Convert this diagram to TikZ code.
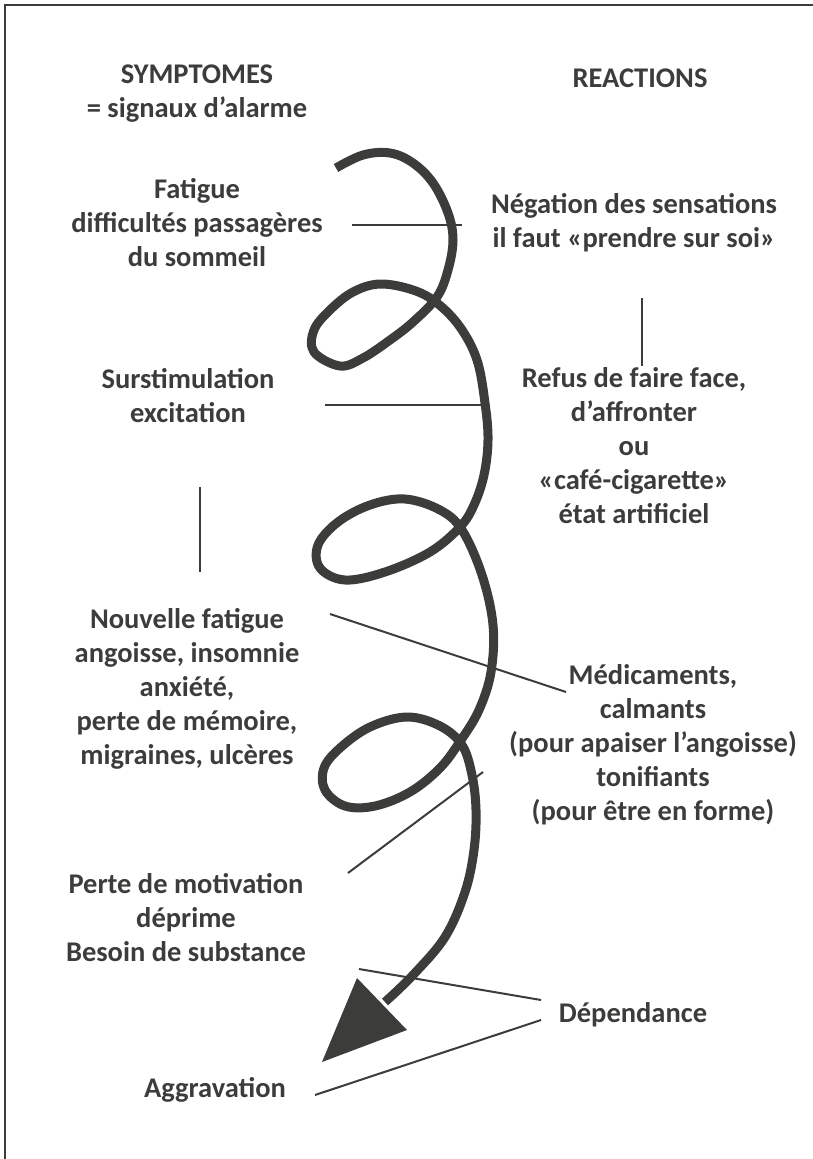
\documentclass[tikz,border=0pt]{standalone}
\usepackage{fontspec}
\setmainfont{Carlito}
\definecolor{ink}{HTML}{3C3C3B}
\begin{document}
\begin{tikzpicture}[x=1pt,y=-1pt,
  lbl/.style={font=\fontsize{28.5}{34}\selectfont\bfseries, text=ink, align=center, inner sep=0pt},
  thin/.style={draw=ink, line width=2pt},
  spiral/.style={draw=ink, line width=9pt, line join=round}]
\useasboundingbox (0,0) rectangle (812,1159);
\draw[ink, line width=2.5pt] (5,5) rectangle (830,1180);

% headings
\node[lbl] (symp) at (197,94) {SYMPTOMES\\= signaux d’alarme};
\node[lbl] (reac) at (640,78) {REACTIONS};

% left column
\node[lbl] (fat) at (197,223) {Fatigue\\difficultés passagères\\du sommeil};
\node[lbl] (surs) at (188,396) {Surstimulation\\excitation};
\node[lbl] (nouv) at (187,689) {Nouvelle fatigue\\angoisse, insomnie\\anxiété,\\perte de mémoire,\\migraines, ulcères};
\node[lbl] (perte) at (186,918) {Perte de motivation\\déprime\\Besoin de substance};
\node[lbl] (aggr) at (215,1090) {Aggravation};

% right column
\node[lbl] (neg) at (634,223) {Négation des sensations\\il faut «prendre sur soi»};
\node[lbl] (refus) at (634,446) {Refus de faire face,\\d’affronter\\ou\\«café-cigarette»\\état artificiel};
\node[lbl] (medic) at (653,745) {Médicaments,\\calmants\\(pour apaiser l’angoisse)\\tonifiants\\(pour être en forme)};
\node[lbl] (dep) at (633,1015) {Dépendance};

% spiral
\draw[spiral] plot[smooth, tension=0.6] coordinates {
 (336,168) (363,155) (390,153) (413,163) (433,183) (448,213) (453,240) (448,270) (437,297)
 (413,322) (390,340) (363,358) (340,366) (314,352) (314,330) (330,310) (353,292) (380,284) (413,290)
 (437,303) (460,327) (477,360) (485,403) (488,440) (484,475) (474,505)
 (460,527) (430,552) (385,572) (345,580) (320,568) (318,545) (338,522) (370,505) (405,499) (440,510)
 (462,530) (482,575) (493,625) (491,672) (479,710) (461,740)
 (440,768) (410,792) (375,806) (345,806) (325,790) (324,768) (340,748) (370,727) (407,717) (440,726)
 (462,745) (472,775) (476,810) (474,850) (465,892) (445,937) (413,975) (385,1002)};
\fill[ink] (357,978) -- (407,1030) -- (322,1062) -- cycle;

% connector lines
\coordinate (a1) at (352,225); \coordinate (a2) at (462,225);
\draw[thin] (a1) -- (a2);
\coordinate (b1) at (642,298); \coordinate (b2) at (642,366);
\draw[thin] (b1) -- (b2);
\coordinate (c1) at (325,405); \coordinate (c2) at (487,405);
\draw[thin] (c1) -- (c2);
\coordinate (d1) at (200,487); \coordinate (d2) at (200,572);
\draw[thin] (d1) -- (d2);
\coordinate (e1) at (330,614); \coordinate (e2) at (566,692);
\draw[thin] (e1) -- (e2);
\coordinate (f1) at (348,873); \coordinate (f2) at (483,772);
\draw[thin] (f1) -- (f2);
\coordinate (g1) at (359,969); \coordinate (g2) at (541,1000);
\draw[thin] (g1) -- (g2);
\coordinate (h1) at (315,1095); \coordinate (h2) at (541,1020);
\draw[thin] (h1) -- (h2);
\end{tikzpicture}
\end{document}
